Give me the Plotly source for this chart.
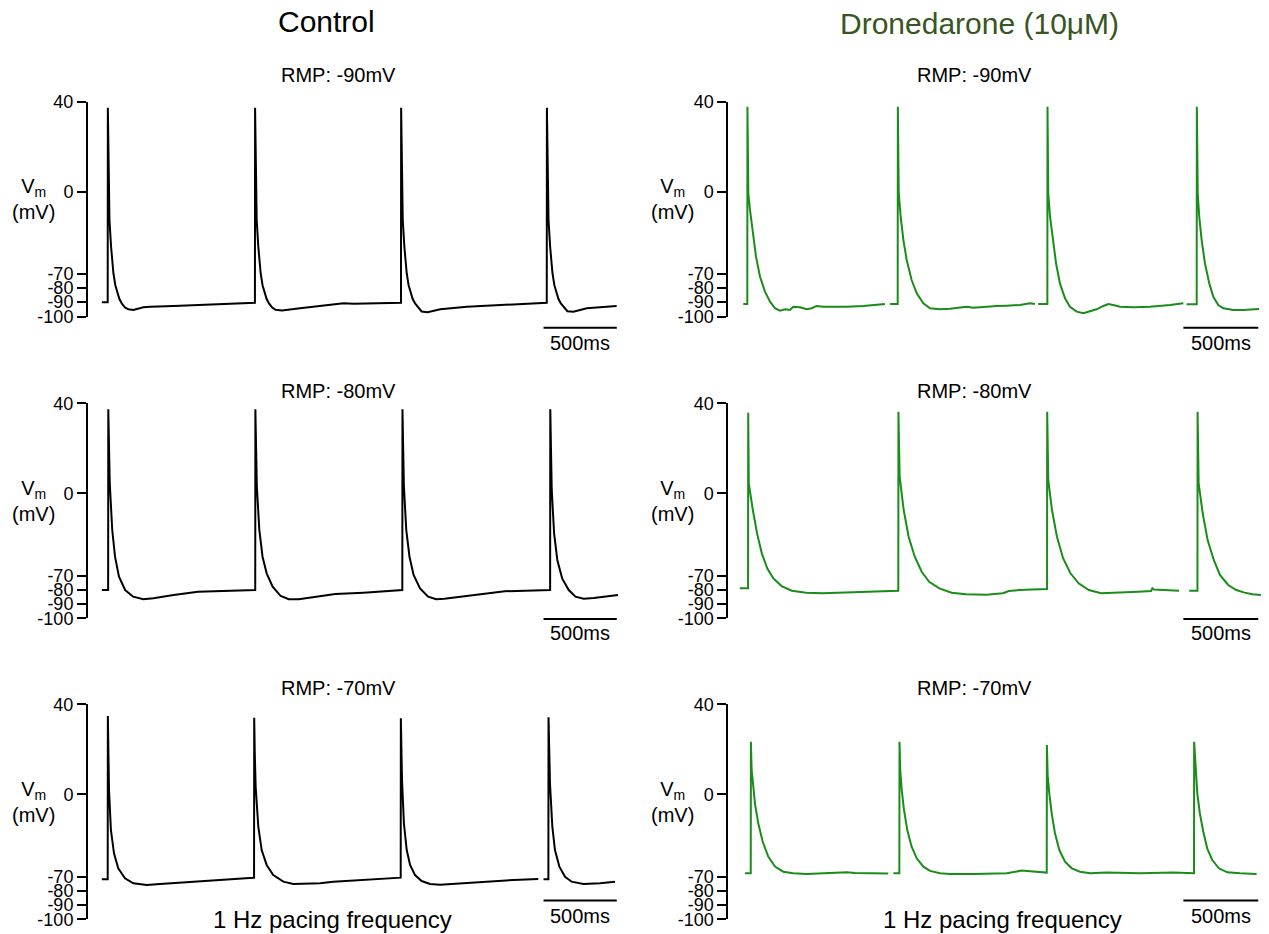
import plotly.graph_objects as go

W, H = 1269, 934

# ---------------- data (time in ms, membrane potential in mV) ----------------
CTRL_90_T = [-40, 0, 1, 4, 9, 12, 23, 39, 52, 66, 80, 96, 118, 141, 175, 243, 290, 450, 630, 820, 994,
             1005, 1006, 1009, 1014, 1017, 1028, 1044, 1057, 1071, 1085, 1101, 1123, 1146, 1190, 1313, 1449, 1540, 1610, 1680, 1770, 1995,
             2002, 2003, 2006, 2011, 2014, 2025, 2041, 2054, 2068, 2082, 2098, 2120, 2143, 2184, 2270, 2452, 2680, 2903, 2990,
             2997, 2998, 3001, 3006, 3009, 3020, 3036, 3049, 3063, 3077, 3093, 3115, 3138, 3179, 3270, 3360, 3474]
CTRL_90_V = [-90.6, -90.6, 36.1, 5, -19.6, -37, -54.4, -71.7, -79.5, -84.8, -88.5, -91.3, -94, -95.2, -95.6, -93.9, -93.5, -93.0, -92.4, -91.6, -90.9,
             -90.9, 36.1, 5, -19.6, -37, -54.4, -71.7, -79.5, -84.8, -88.5, -91.3, -94, -95.5, -96, -94.5, -93, -91.8, -91.2, -91.6, -91.3, -90.9,
             -90.9, 36.1, 5, -19.6, -37, -54.4, -71.7, -79.5, -84.8, -88.5, -91.3, -94, -96.6, -97.1, -95.2, -93.5, -92.4, -91.3, -90.9,
             -90.9, 36.1, 5, -19.6, -37, -54.4, -71.7, -79.5, -84.8, -88.5, -91.3, -94, -96.4, -96.7, -94.5, -93.9, -93]

CTRL_80_T = [-40, 3, 4, 8, 14, 31, 50, 77, 119, 174, 243, 312, 450, 616, 754, 1002,
             1007, 1008, 1012, 1018, 1035, 1057, 1085, 1126, 1181, 1236, 1305, 1415, 1553, 1746, 1994,
             2011, 2012, 2016, 2022, 2038, 2060, 2088, 2132, 2187, 2242, 2298, 2435, 2573, 2711, 2849, 3000,
             3020, 3021, 3025, 3031, 3047, 3069, 3102, 3147, 3193, 3249, 3318, 3400, 3483]
CTRL_80_V = [-81.6, -81.6, 36.1, 5, -12, -42.5, -59.9, -72.9, -81.6, -85.9, -87.6, -87, -84.8, -82.7, -82.2, -81.6,
             -81.6, 36.1, 5, -14, -42.5, -59.9, -70.7, -79.4, -85.5, -87.6, -87.6, -86.3, -84.2, -83.3, -81.6,
             -81.6, 36.1, 5, -14.3, -42.5, -59.9, -71.8, -80.5, -85.9, -87.6, -87.2, -85.5, -83.7, -82.4, -82, -81.6,
             -81.6, 36.1, 5, -16.4, -44.7, -62, -74, -81.6, -85.9, -87.2, -86.8, -85.9, -84.8]

CTRL_70_T = [-40, 0, 1, 4, 9, 22, 43, 72, 118, 175, 266, 357, 539, 744, 994,
             999, 1000, 1004, 1010, 1028, 1051, 1085, 1130, 1199, 1267, 1358, 1449, 1540, 1768, 1973,
             2000, 2001, 2005, 2009, 2022, 2041, 2064, 2098, 2143, 2200, 2268, 2405, 2587, 2769, 2939, None, 2975, 3008,
             3008, 3009, 3013, 3019, 3035, 3053, 3083, 3122, 3167, 3247, 3361, 3463]
CTRL_70_V = [-74, -74, 32.4, 10, -15.8, -41.9, -57, -66.8, -73.3, -76.6, -77.7, -77, -75.7, -74.4, -72.9,
             -72.9, 31.3, 8, -13.7, -39.7, -54.9, -64.6, -71.2, -75.5, -77, -77, -76.6, -75.5, -74, -72.9,
             -72.9, 30.9, 8, -9.3, -37.5, -54.9, -64.6, -71.2, -75.1, -77, -77.5, -76.6, -75.5, -74.4, -73.8, None, -74, -74,
             -74, 31.5, 8, -11.4, -39.7, -54.9, -65.7, -72.3, -75.5, -77, -76.6, -75.5]

DRON_90_T = [-27, 0, 1, 3, 7, 18, 36, 58, 85, 118, 152, 185, 218, 252, 285, 307, 352, 396, 430, 463, 507, 664, 774, 864, 919, None, 952, 1004,
             1005, 1007, 1011, 1024, 1042, 1064, 1097, 1131, 1175, 1220, 1286, 1353, 1375, 1464, 1509, 1575, 1664, 1732, 1820, 1887, 1920, None, 1942, 2003,
             2004, 2006, 2009, 2021, 2039, 2061, 2087, 2121, 2154, 2199, 2243, 2288, 2332, 2377, 2410, 2443, 2488, 2577, 2688, 2822, 2911, None, 2933, 3000,
             3001, 3004, 3007, 3017, 3033, 3055, 3084, 3111, 3144, 3178, 3244, 3311, 3416]
DRON_90_V = [-91.7, -91.7, 36.7, -4.5, -19.6, -30.5, -45.7, -60.9, -74, -83.7, -90.2, -94.5, -96.1, -95.2, -95.6, -93.5, -93.9, -95.2, -94.5, -93, -93.5, -93.5, -93, -91.9, -91.7, None, -91.7, -91.7,
             36.7, -4.5, -19.6, -34.9, -50.1, -63.1, -76.1, -84.8, -91.3, -94.5, -95.2, -94.8, -94.5, -93.5, -94.1, -93.5, -93, -92.8, -92.4, -91.3, -91.7, None, -91.7, -91.7,
             36.7, -4.5, -19.6, -34.9, -50.1, -65.2, -78.3, -88, -93.5, -96.7, -97.8, -96.7, -95.2, -93, -91.7, -92.4, -93.5, -93.9, -93.5, -92.4, -91.3, None, -91.9, -91.9,
             36.7, -4.5, -19.6, -34.9, -50.1, -65.2, -78.3, -87, -92.4, -94.5, -95.6, -95.6, -95]

DRON_80_T = [-50, 5, 6, 10, 37, 65, 97, 133, 174, 229, 297, 393, 502, 639, 803, 967, 1008,
             1009, 1017, 1044, 1077, 1118, 1164, 1214, 1282, 1364, 1459, 1596, 1706, 1746, 1815, 1952, 2001,
             2002, 2009, 2034, 2067, 2108, 2157, 2212, 2280, 2362, 2499, 2608, 2695, 2704, 2715, 2772, 2882, None, 2950, 3005,
             3006, 3013, 3040, 3073, 3114, 3155, 3210, 3264, 3319, 3374, 3429]
DRON_80_V = [-80.5, -80.5, 33.9, -12.1, -29.5, -44.7, -57.7, -67.4, -74, -79, -82, -83.3, -83.7, -83.3, -82.9, -82.2, -82,
             34.5, -7.8, -29.5, -46.9, -59.9, -69.7, -76.2, -80.5, -83.3, -84.4, -84.6, -83.7, -82.2, -81.6, -81.1, -80.9,
             34.5, -9.9, -29.5, -46.9, -60.9, -70.7, -77.2, -81.6, -83.7, -83.3, -82.7, -82.2, -80.5, -81.3, -81.6, -82, None, -82, -82,
             34.5, -12.1, -31.6, -49.1, -62, -71.8, -78.3, -81.6, -83.3, -84.4, -84.8]

DRON_70_T = [-15, 23, 24, 29, 36, 51, 73, 103, 140, 185, 240, 307, 396, 552, 620, 664, 720, 774, 941, None, 975, 1015,
             1016, 1021, 1031, 1046, 1068, 1097, 1131, 1175, 1220, 1286, 1353, 1509, 1732, 1776, 1832, 1887, 1954, 1999,
             2000, 2005, 2016, 2032, 2054, 2083, 2121, 2166, 2221, 2288, 2399, 2621, 2844, 2982,
             2983, 2993, 3004, 3021, 3044, 3070, 3104, 3148, 3204, 3289, 3400]
DRON_70_V = [-70, -70, 15.6, -2.8, -9.3, -24.5, -37.5, -49.5, -59.2, -65.7, -69, -70, -70.5, -70, -69.6, -69.4, -69.8, -70, -70.2, None, -70, -70,
             15.6, -2.8, -15.8, -28.8, -41.9, -52.7, -60.3, -65.7, -68.5, -70, -70.5, -70.5, -70, -69.2, -68.3, -68.7, -69.4, -69.6,
             13.5, -6.1, -18, -31, -44, -54.9, -62.5, -66.8, -69, -70, -69.6, -70, -69.6, -70,
             15.6, -4.9, -18, -31, -43, -53.8, -61.4, -66.8, -69.4, -70, -70.5]

COLUMN_TITLES = ["Control", "Dronedarone (10μM)"]
RMP_LABELS = ["RMP: -90mV", "RMP: -80mV", "RMP: -70mV"]
Y_TICK_TEXT = ["40", "0", "-70", "-80", "-90", "-100"]
Y_TICK_VALS = [40, -18.6, -72.2, -81.4, -90.5, -100]
Y_LABEL = "V<sub>m</sub><br>(mV)"
SCALE_BAR_MS = 500
SCALE_BAR_START = [2975, 2911]
SCALE_LABEL = "500ms"
BOTTOM_LABEL = "1 Hz pacing frequency"

# ---------------- styling / geometry ----------------
FONT = "Liberation Sans, Arial, Helvetica, sans-serif"
TRACE_COLORS = ["#000000", "#1a8c1a"]
TITLE_COLORS = ["#000000", "#375623"]

# columns: (left px, right px, px of t=0, px per ms)
COLS = [(88.0, 620.0, 107.7, 0.1465), (728.3, 1265.0, 747.3, 0.1498)]
ROW_TOP = [101.7, 403.3, 704.3]
ROW_H = 215.0
BAR_Y = [327.7, 619.0, 900.5]
BAR_LABEL_Y = [343.0, 633.0, 915.5]
RMP_Y = [75.0, 391.0, 688.0]
RMP_X = [338.0, 974.0]
VM_X = [33.0, 672.0]
TITLE_POS = [(326.0, 22.0), (979.0, 24.0)]
BOTTOM_POS = [(332.0, 919.0), (1002.0, 919.0)]


def px(x):
    return x / W


def py(y):
    return 1 - y / H


traces_data = [
    [(CTRL_90_T, CTRL_90_V), (DRON_90_T, DRON_90_V)],
    [(CTRL_80_T, CTRL_80_V), (DRON_80_T, DRON_80_V)],
    [(CTRL_70_T, CTRL_70_V), (DRON_70_T, DRON_70_V)],
]

fig = go.Figure()
layout = dict(
    template="none",
    width=W, height=H, autosize=False,
    margin=dict(l=0, r=0, t=0, b=0, pad=0, autoexpand=False),
    paper_bgcolor="white", plot_bgcolor="white",
    showlegend=False,
    font=dict(family=FONT, color="black"),
)
annotations = []
shapes = []

for r in range(3):
    for c in range(2):
        i = r * 2 + c + 1
        xa = "x" if i == 1 else f"x{i}"
        ya = "y" if i == 1 else f"y{i}"
        xl, xr, x0, s = COLS[c]
        t, v = traces_data[r][c]
        fig.add_trace(go.Scatter(
            x=t, y=v, xaxis=xa, yaxis=ya, mode="lines",
            line=dict(color=TRACE_COLORS[c], width=2),
            connectgaps=False, hoverinfo="skip",
        ))
        top = ROW_TOP[r]
        layout["xaxis" if i == 1 else f"xaxis{i}"] = dict(
            domain=[px(xl), px(xr)],
            range=[(xl - x0) / s, (xr - x0) / s],
            anchor=ya, visible=False, fixedrange=True, automargin=False,
            showgrid=False, zeroline=False,
        )
        layout["yaxis" if i == 1 else f"yaxis{i}"] = dict(
            domain=[py(top + ROW_H), py(top)],
            range=[-100, 40], anchor=xa, automargin=False,
            showgrid=False, zeroline=False,
            showline=True, linecolor="black", linewidth=2,
            ticks="outside", ticklen=9, tickwidth=2, tickcolor="black",
            tickmode="array", tickvals=Y_TICK_VALS, ticktext=Y_TICK_TEXT,
            tickfont=dict(family=FONT, size=18, color="black"),
            fixedrange=True,
        )
        # scale bar
        b0 = SCALE_BAR_START[c]
        shapes.append(dict(
            type="line", xref=xa, yref="paper",
            x0=b0, x1=b0 + SCALE_BAR_MS, y0=py(BAR_Y[r]), y1=py(BAR_Y[r]),
            line=dict(color="black", width=2),
        ))
        annotations.append(dict(
            text=SCALE_LABEL, xref=xa, yref="paper",
            x=b0 + SCALE_BAR_MS / 2, y=py(BAR_LABEL_Y[r]),
            xanchor="center", yanchor="middle", showarrow=False,
            font=dict(family=FONT, size=20, color="black"),
        ))
        # RMP label
        annotations.append(dict(
            text=RMP_LABELS[r], xref="paper", yref="paper",
            x=px(RMP_X[c]), y=py(RMP_Y[r]),
            xanchor="center", yanchor="middle", showarrow=False,
            font=dict(family=FONT, size=20, color="black"),
        ))
        # Vm label
        annotations.append(dict(
            text=Y_LABEL, xref="paper", yref="paper",
            x=px(VM_X[c]), y=py(top + 97.5),
            xanchor="center", yanchor="middle", showarrow=False, align="center",
            font=dict(family=FONT, size=20, color="black"),
        ))

for c in range(2):
    annotations.append(dict(
        text=COLUMN_TITLES[c], xref="paper", yref="paper",
        x=px(TITLE_POS[c][0]), y=py(TITLE_POS[c][1]),
        xanchor="center", yanchor="middle", showarrow=False,
        font=dict(family=FONT, size=30, color=TITLE_COLORS[c]),
    ))
    annotations.append(dict(
        text=BOTTOM_LABEL, xref="paper", yref="paper",
        x=px(BOTTOM_POS[c][0]), y=py(BOTTOM_POS[c][1]),
        xanchor="center", yanchor="middle", showarrow=False,
        font=dict(family=FONT, size=24, color="black"),
    ))

layout["annotations"] = annotations
layout["shapes"] = shapes
fig.update_layout(**layout)
fig.write_html(
    "out.html",
    config={"displayModeBar": False, "staticPlot": True},
    post_script="document.body.style.margin='0px';document.body.style.overflow='hidden';",
)
